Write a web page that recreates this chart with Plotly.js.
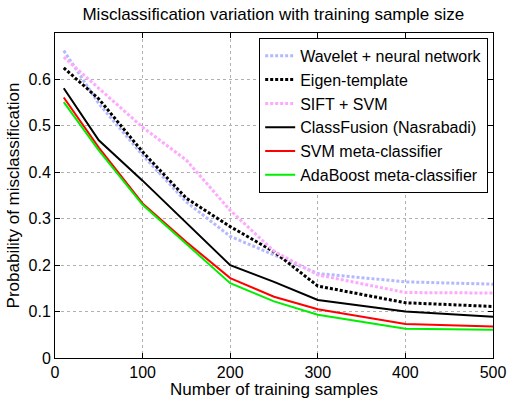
<!DOCTYPE html>
<html>
<head>
<meta charset="utf-8">
<script src="https://cdn.plot.ly/plotly-3.0.1.min.js"></script>
<style>html,body{margin:0;padding:0;background:#fff;}#chart{width:508px;height:399px;}</style>
</head>
<body>
<div id="chart"></div>
<script>
var samples = [10, 50, 100, 150, 200, 250, 300, 400, 500];
var waveletNN = [0.662, 0.548, 0.437, 0.336, 0.262, 0.222, 0.182, 0.164, 0.159];
var eigenTemplate = [0.625, 0.558, 0.444, 0.344, 0.283, 0.229, 0.155, 0.119, 0.111];
var siftSVM = [0.648, 0.580, 0.497, 0.426, 0.318, 0.230, 0.179, 0.141, 0.140];
var classFusion = [0.581, 0.469, 0.382, 0.292, 0.200, 0.164, 0.125, 0.100, 0.089];
var svmMeta = [0.561, 0.453, 0.333, 0.250, 0.172, 0.132, 0.105, 0.073, 0.068];
var adaBoostMeta = [0.551, 0.447, 0.330, 0.245, 0.161, 0.122, 0.093, 0.063, 0.061];

var seriesNames = ["Wavelet + neural network", "Eigen-template", "SIFT + SVM",
  "ClassFusion (Nasrabadi)", "SVM meta-classifier", "AdaBoost meta-classifier"];
var xTicks = [0, 100, 200, 300, 400, 500];
var yTicks = [0, 0.1, 0.2, 0.3, 0.4, 0.5, 0.6];
var yTickText = ["0", "0.1", "0.2", "0.3", "0.4", "0.5", "0.6"];

var allY = [waveletNN, eigenTemplate, siftSVM, classFusion, svmMeta, adaBoostMeta];
var styles = [
  {color: "#b4b8ff", width: 3, dash: "3px,2px"},
  {color: "#000000", width: 3, dash: "3px,2px"},
  {color: "#ffa8ff", width: 3, dash: "3px,2px"},
  {color: "#000000", width: 2, dash: "solid"},
  {color: "#ff0000", width: 2, dash: "solid"},
  {color: "#00ee00", width: 2, dash: "solid"}
];
var traces = allY.map(function (ys, i) {
  return {x: samples, y: ys, type: "scatter", mode: "lines", name: seriesNames[i], line: styles[i]};
});

var fontFam = "Liberation Sans, Arial, sans-serif";
var layout = {
  width: 508, height: 399,
  margin: {l: 55, r: 15, t: 33, b: 41, pad: 0},
  paper_bgcolor: "#ffffff", plot_bgcolor: "#ffffff",
  font: {family: fontFam, size: 16, color: "#000"},
  title: {text: "Misclassification variation with training sample size", font: {size: 17, family: fontFam},
    x: 0.538, xanchor: "center", yref: "container", y: 0.965, yanchor: "middle"},
  xaxis: {
    range: [0, 500], tickvals: xTicks, ticktext: xTicks.map(String),
    ticks: "inside", ticklen: 5, tickcolor: "#000",
    showline: true, mirror: "ticks", linecolor: "#000", linewidth: 1,
    showgrid: true, gridcolor: "#b0b0b0", griddash: "3px,3px", gridwidth: 1, zeroline: false,
    tickfont: {size: 16},
    title: {text: "Number of training samples", font: {size: 17}, standoff: 4}
  },
  yaxis: {
    range: [0, 0.7], tickvals: yTicks, ticktext: yTickText,
    ticks: "inside", ticklen: 5, tickcolor: "#000",
    showline: true, mirror: "ticks", linecolor: "#000", linewidth: 1,
    showgrid: true, gridcolor: "#b0b0b0", griddash: "3px,3px", gridwidth: 1, zeroline: false,
    tickfont: {size: 16},
    title: {text: "Probability of misclassification", font: {size: 17}, standoff: 4}
  },
  showlegend: true,
  legend: {x: 0.989, xanchor: "right", y: 0.985, yanchor: "top",
    bgcolor: "#ffffff", bordercolor: "#000", borderwidth: 1,
    font: {size: 16, family: fontFam}, tracegroupgap: 0}
};
Plotly.newPlot("chart", traces, layout, {displayModeBar: false, staticPlot: true});
</script>
</body>
</html>
